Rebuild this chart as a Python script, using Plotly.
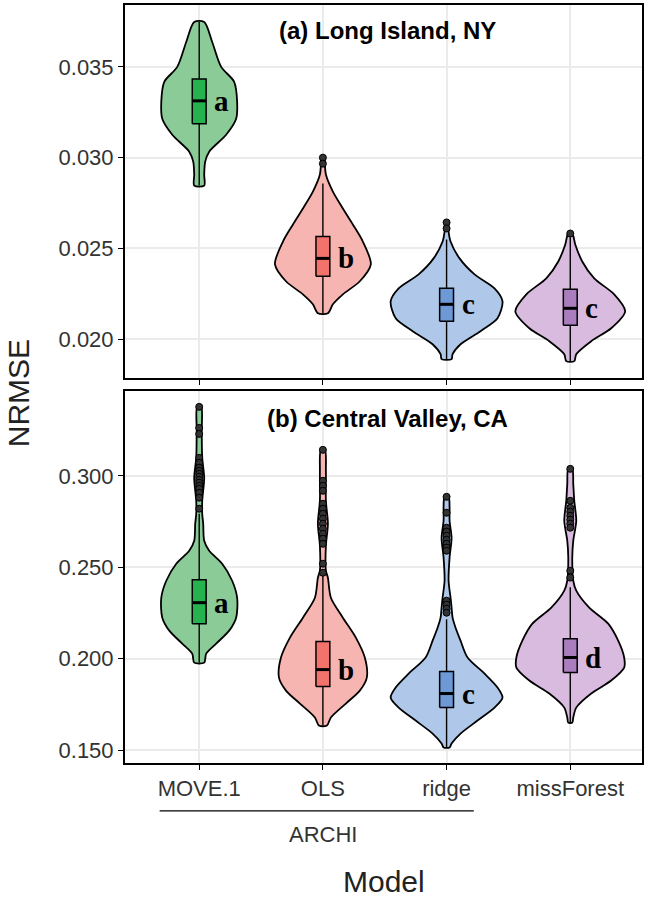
import plotly.graph_objects as go

models = ["MOVE.1", "OLS", "ridge", "missForest"]
violin_fill = ["#8acb98", "#f7b5b1", "#afc8ea", "#d9bbdf"]
box_fill = ["#26b34f", "#f3726c", "#6d99d6", "#aa7ebe"]

# ---------------- Panel (a) Long Island, NY ----------------
a_vy = [
    [0.03747, 0.03637, 0.0350, 0.03418, 0.03308, 0.03214, 0.03126, 0.03033, 0.02978, 0.02907, 0.02846],
    [0.03005, 0.02961, 0.02907, 0.02813, 0.02720, 0.02632, 0.02538, 0.02412, 0.02319, 0.02247, 0.02192, 0.02143],
    [0.02637, 0.02593, 0.02538, 0.02445, 0.02357, 0.02280, 0.02209, 0.02115, 0.02044, 0.01972, 0.01917, 0.01890],
    [0.02582, 0.02522, 0.02428, 0.02335, 0.02247, 0.02154, 0.02060, 0.01989, 0.01917, 0.01879],
]
a_density = [
    [5, 13, 22, 35, 38, 37, 27, 10, 6, 5, 5],
    [1.5, 2, 3, 10, 20, 30, 40, 48, 37, 20, 10, 5],
    [1.5, 2, 4, 13, 28, 48, 56, 51, 34, 14, 6, 5],
    [2, 5, 12, 24, 44, 55, 41, 21, 6, 4],
]
a_q1 = [0.03187, 0.02346, 0.02099, 0.02077]
a_med = [0.03313, 0.02445, 0.02192, 0.02170]
a_q3 = [0.03434, 0.02566, 0.02280, 0.02275]
a_lo = [0.02846, 0.02143, 0.01890, 0.01879]
a_hi = [0.03747, 0.02857, 0.02549, 0.02577]
a_out = [[], [0.03000, 0.02967], [0.02643, 0.02610], [0.02582]]
a_letters = ["a", "b", "c", "c"]

# ---------------- Panel (b) Central Valley, CA ----------------
b_vy = [
    [0.3377, 0.3246, 0.3098, 0.2989, 0.2863, 0.2792, 0.2738, 0.2645, 0.2590, 0.2519, 0.2426,
     0.2333, 0.2224, 0.2153, 0.2082, 0.2027, 0.1978],
    [0.3142, 0.3027, 0.2863, 0.2738, 0.2618, 0.2481, 0.2443, 0.2333, 0.2224, 0.2115, 0.2006,
     0.1896, 0.1825, 0.1754, 0.1678, 0.1634],
    [0.2885, 0.2825, 0.2754, 0.2661, 0.2552, 0.2426, 0.2333, 0.2279, 0.2224, 0.2169, 0.2098,
     0.2006, 0.1918, 0.1842, 0.1787, 0.1732, 0.1661, 0.1590, 0.1536, 0.1514],
    [0.3038, 0.2956, 0.2863, 0.2754, 0.2645, 0.2552, 0.2426, 0.2372, 0.2279, 0.2191, 0.2098,
     0.2006, 0.1951, 0.1880, 0.1809, 0.1732, 0.1678, 0.1650],
]
b_density = [
    [2, 2.5, 3, 5, 3, 3, 4, 5, 10, 23, 33, 38, 37, 30, 17, 7, 5],
    [2, 3, 3, 5, 3, 3, 5, 8, 20, 33, 42, 44, 37, 23, 8, 4],
    [2, 3, 3, 5, 3, 2, 4, 5, 6, 9, 14, 21, 38, 51, 56, 48, 31, 14, 5, 3],
    [2, 3, 4, 6, 3, 2, 3, 6, 19, 38, 48, 54, 54, 41, 21, 6, 3, 2],
]
b_q1 = [0.2191, 0.1847, 0.1732, 0.1924]
b_med = [0.2306, 0.1940, 0.1809, 0.2006]
b_q3 = [0.2432, 0.2093, 0.1929, 0.2109]
b_lo = [0.1978, 0.1634, 0.1514, 0.1650]
b_hi = [0.2792, 0.2460, 0.2215, 0.2390]
b_out = [
    [0.3377, 0.3262, 0.3229, 0.3098, 0.3071, 0.3044, 0.3027, 0.3011, 0.2995, 0.2978, 0.2962,
     0.2945, 0.2929, 0.2907, 0.2880, 0.2820],
    [0.3142, 0.2973, 0.2945, 0.2918, 0.2847, 0.2820, 0.2792, 0.2765, 0.2738, 0.2710, 0.2683,
     0.2656, 0.2628, 0.2519, 0.2470],
    [0.2885, 0.2798, 0.2716, 0.2694, 0.2672, 0.2650, 0.2628, 0.2607, 0.2590, 0.2317, 0.2295,
     0.2273, 0.2251],
    [0.3038, 0.2863, 0.2825, 0.2803, 0.2781, 0.2760, 0.2738, 0.2716, 0.2481, 0.2443],
]
b_letters = ["a", "b", "c", "d"]

a_ticks = [0.020, 0.025, 0.030, 0.035]
b_ticks = [0.150, 0.200, 0.250, 0.300]

DENS_SCALE = 1 / 123.9   # density units -> category width units
BOX_HW = 0.056

fig = go.Figure()


def add_panel(xa, ya, vy, dens, q1, med, q3, lo, hi, outs, letters):
    for i in range(len(models)):
        xs_r = [i + d * DENS_SCALE for d in dens[i]]
        xs_l = [i - d * DENS_SCALE for d in dens[i]][::-1]
        ys = vy[i] + vy[i][::-1]
        fig.add_trace(go.Scatter(
            x=xs_r + xs_l + [xs_r[0]], y=ys + [ys[0]], xaxis=xa, yaxis=ya,
            mode="lines", line=dict(color="black", width=1.8, shape="spline", smoothing=0.8),
            fill="toself", fillcolor=violin_fill[i], hoverinfo="skip", showlegend=False))
        # whisker
        fig.add_trace(go.Scatter(
            x=[i, i], y=[lo[i], hi[i]], xaxis=xa, yaxis=ya, mode="lines",
            line=dict(color="black", width=1.4), hoverinfo="skip", showlegend=False))
        # box
        fig.add_trace(go.Scatter(
            x=[i - BOX_HW, i + BOX_HW, i + BOX_HW, i - BOX_HW, i - BOX_HW],
            y=[q1[i], q1[i], q3[i], q3[i], q1[i]], xaxis=xa, yaxis=ya, mode="lines",
            line=dict(color="black", width=1.5), fill="toself", fillcolor=box_fill[i],
            hoverinfo="skip", showlegend=False))
        # median
        fig.add_trace(go.Scatter(
            x=[i - BOX_HW, i + BOX_HW], y=[med[i], med[i]], xaxis=xa, yaxis=ya, mode="lines",
            line=dict(color="black", width=3), hoverinfo="skip", showlegend=False))
        # outliers
        if outs[i]:
            fig.add_trace(go.Scatter(
                x=[i] * len(outs[i]), y=outs[i], xaxis=xa, yaxis=ya, mode="markers",
                marker=dict(color="#333333", size=7, line=dict(color="black", width=1)),
                hoverinfo="skip", showlegend=False))
        fig.add_annotation(x=i + 0.105, y=med[i], xref=xa, yref=ya, text=f"<b>{letters[i]}</b>",
                           showarrow=False, xanchor="left", yanchor="middle",
                           font=dict(family="Liberation Serif", size=29, color="black"))


add_panel("x", "y", a_vy, a_density, a_q1, a_med, a_q3, a_lo, a_hi, a_out, a_letters)
add_panel("x2", "y2", b_vy, b_density, b_q1, b_med, b_q3, b_lo, b_hi, b_out, b_letters)

tick_font = dict(family="Liberation Sans, Arial", size=22, color="#333333")
common_x = dict(range=[-0.6, 3.58], tickvals=list(range(len(models))), ticktext=models,
                showgrid=True, gridcolor="#ebebeb", gridwidth=1.5, zeroline=False,
                showline=True, mirror=True, linecolor="black", linewidth=2,
                ticks="outside", ticklen=5, tickcolor="black", tickwidth=1.3,
                tickfont=tick_font)
common_y = dict(showgrid=True, gridcolor="#ebebeb", gridwidth=1.5, zeroline=False,
                showline=True, mirror=True, linecolor="black", linewidth=2,
                ticks="outside", ticklen=5, tickcolor="black", tickwidth=1.3,
                tickfont=tick_font, tickformat=".3f")

fig.update_layout(
    width=647, height=902,
    margin=dict(l=125, r=4, t=3, b=139, pad=0),
    plot_bgcolor="white", paper_bgcolor="white",
    font=dict(family="Liberation Sans, Arial", color="#222"),
    xaxis=dict(common_x, anchor="y", showticklabels=False),
    yaxis=dict(common_y, domain=[0.5079, 1.0], range=[0.01786, 0.03841], tickvals=a_ticks),
    xaxis2=dict(common_x, anchor="y2", ticklabelstandoff=0),
    yaxis2=dict(common_y, domain=[0.0, 0.4908], range=[0.1429, 0.3464], tickvals=b_ticks),
)

title_font = dict(family="Liberation Sans, Arial", size=24, color="black")
fig.add_annotation(x=0.508, y=1 - 26 / 374, xref="x domain", yref="y domain",
                   text="<b>(a) Long Island, NY</b>", showarrow=False,
                   xanchor="center", yanchor="middle", font=title_font)
fig.add_annotation(x=0.508, y=1 - 28 / 373, xref="x2 domain", yref="y2 domain",
                   text="<b>(b) Central Valley, CA</b>", showarrow=False,
                   xanchor="center", yanchor="middle", font=title_font)

# ARCHI grouping
fig.add_shape(type="line", xref="x2", yref="paper", x0=-0.32, x1=2.22,
              y0=-0.0632, y1=-0.0632, line=dict(color="black", width=1.3))
fig.add_annotation(x=1.0, y=-0.0947, xref="x2", yref="paper", text="ARCHI",
                   showarrow=False, xanchor="center", yanchor="middle", font=tick_font)

axis_title_font = dict(family="Liberation Sans, Arial", size=30, color="#222")
fig.add_annotation(x=0.5, y=-0.1566, xref="paper", yref="paper", text="Model",
                   showarrow=False, xanchor="center", yanchor="middle", font=axis_title_font)
fig.add_annotation(x=-0.2066, y=0.488, xref="paper", yref="paper", text="NRMSE",
                   textangle=-90, showarrow=False, xanchor="center", yanchor="middle",
                   font=axis_title_font)

fig.write_html("out.html")
